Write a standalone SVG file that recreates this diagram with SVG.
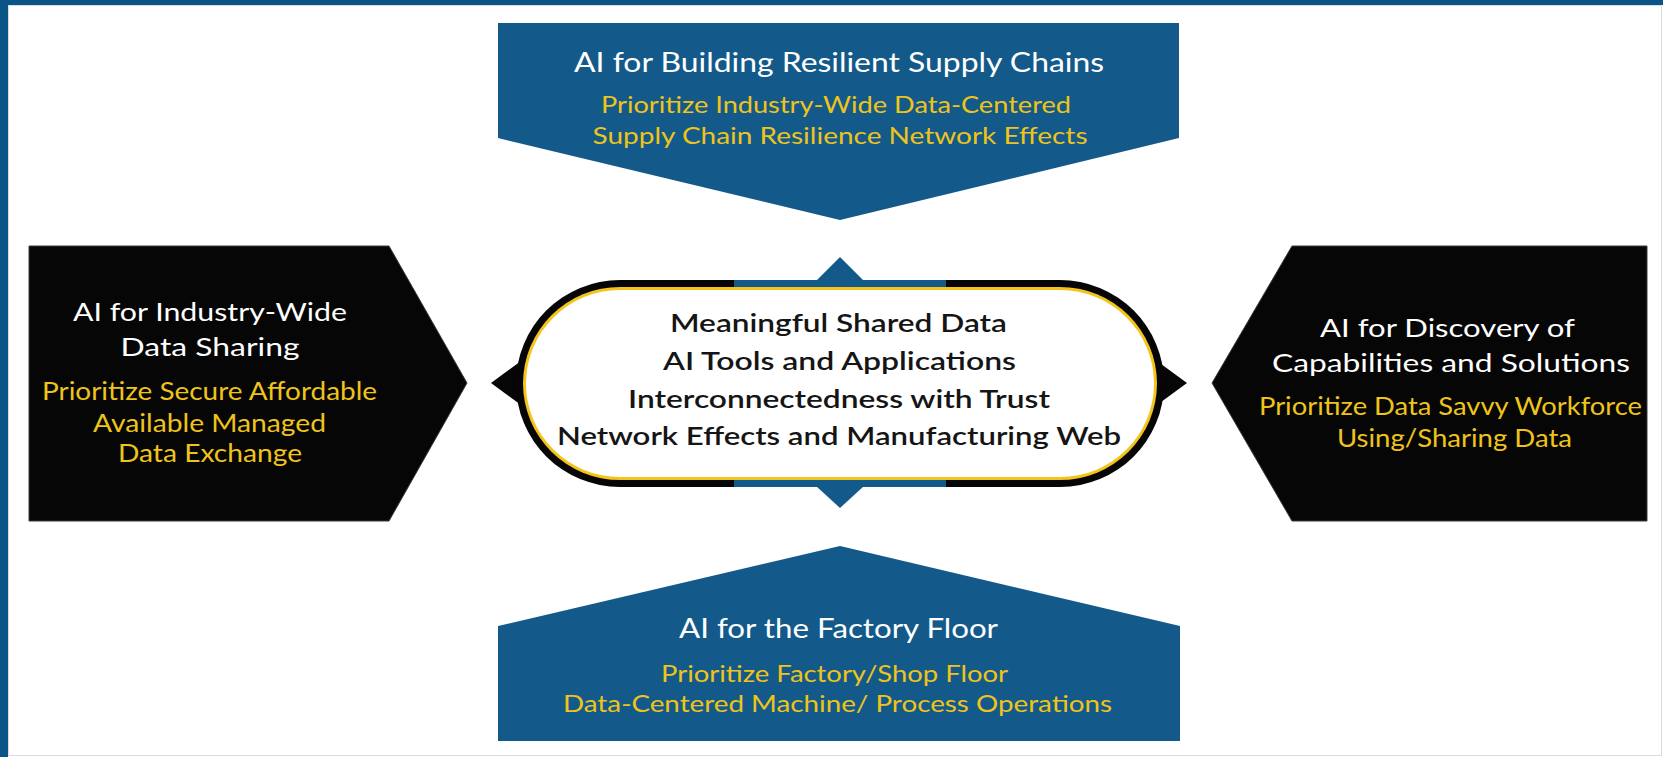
<svg xmlns="http://www.w3.org/2000/svg" width="1663" height="757" viewBox="0 0 1663 757">
  <style>
    .blue { fill: #135a8a; }
    .dark { fill: #060606; stroke: #3a3a3a; stroke-width: 1; }
    text { font-family: Lato, "Liberation Sans", sans-serif; text-anchor: middle; }
    .hw { fill: #ffffff; }
    .hy { fill: #efc41a; }
    .hc { fill: #151515; font-weight: 600; }
  </style>

  <!-- frame -->
  <rect x="0" y="0" width="1663" height="757" fill="#ffffff"/>
  <rect x="8.5" y="5.5" width="1653" height="750" fill="none" stroke="#dcdcdc" stroke-width="1"/>
  <rect x="0" y="0" width="1663" height="5" fill="#0b5488"/>
  <rect x="0" y="0" width="8" height="757" fill="#0b5488"/>

  <!-- top: supply chains -->
  <g id="node-supply-chains">
    <polygon class="blue" points="498,23 1179,23 1179,138 840,220 498,138"/>
    <text class="hw" x="839" y="72" font-size="27" textLength="530" lengthAdjust="spacingAndGlyphs">AI for Building Resilient Supply Chains</text>
    <text class="hy" x="836" y="113" font-size="23" textLength="470" lengthAdjust="spacingAndGlyphs">Prioritize Industry-Wide Data-Centered</text>
    <text class="hy" x="840" y="144" font-size="23" textLength="495" lengthAdjust="spacingAndGlyphs">Supply Chain Resilience Network Effects</text>
  </g>

  <!-- left: data sharing -->
  <g id="node-data-sharing">
    <polygon class="dark" points="29,246 389,246 467,383 389,521 29,521"/>
    <text class="hw" x="210" y="321" font-size="25.5" textLength="274" lengthAdjust="spacingAndGlyphs">AI for Industry-Wide</text>
    <text class="hw" x="210" y="356" font-size="25.5" textLength="179" lengthAdjust="spacingAndGlyphs">Data Sharing</text>
    <text class="hy" x="209.5" y="400" font-size="25" textLength="335" lengthAdjust="spacingAndGlyphs">Prioritize Secure Affordable</text>
    <text class="hy" x="209.5" y="432" font-size="25" textLength="233" lengthAdjust="spacingAndGlyphs">Available Managed</text>
    <text class="hy" x="210" y="462" font-size="25" textLength="184" lengthAdjust="spacingAndGlyphs">Data Exchange</text>
  </g>

  <!-- right: discovery -->
  <g id="node-discovery">
    <polygon class="dark" points="1292,246 1647,246 1647,521 1292,521 1212,383"/>
    <text class="hw" x="1447.5" y="337" font-size="25.5" textLength="255" lengthAdjust="spacingAndGlyphs">AI for Discovery of</text>
    <text class="hw" x="1451" y="372" font-size="25.5" textLength="358" lengthAdjust="spacingAndGlyphs">Capabilities and Solutions</text>
    <text class="hy" x="1450.5" y="415" font-size="25" textLength="383" lengthAdjust="spacingAndGlyphs">Prioritize Data Savvy Workforce</text>
    <text class="hy" x="1454.5" y="447" font-size="25" textLength="235" lengthAdjust="spacingAndGlyphs">Using/Sharing Data</text>
  </g>

  <!-- bottom: factory floor -->
  <g id="node-factory-floor">
    <polygon class="blue" points="840,546 1180,626 1180,741 498,741 498,626"/>
    <text class="hw" x="838.5" y="638" font-size="27" textLength="319" lengthAdjust="spacingAndGlyphs">AI for the Factory Floor</text>
    <text class="hy" x="834.5" y="682" font-size="23" textLength="347" lengthAdjust="spacingAndGlyphs">Prioritize Factory/Shop Floor</text>
    <text class="hy" x="837.5" y="712" font-size="23" textLength="549" lengthAdjust="spacingAndGlyphs">Data-Centered Machine/ Process Operations</text>
  </g>

  <!-- pointers from the hub toward each surrounding block -->
  <g id="connectors">
    <polygon fill="#060606" points="491,383 532,353 532,413"/>
    <polygon fill="#060606" points="1187,383 1146,353 1146,413"/>
    <polygon fill="#135a8a" points="840,257 864,281 816,281"/>
    <polygon fill="#135a8a" points="840,508 864,486 816,486"/>
  </g>

  <!-- central hub -->
  <g id="node-hub">
    <rect x="516" y="280" width="648" height="207" rx="104" ry="103.5" fill="#060606"/>
    <rect x="734" y="280" width="212" height="8" fill="#135a8a"/>
    <rect x="734" y="479" width="212" height="8" fill="#135a8a"/>
    <rect x="523" y="287" width="634" height="193" rx="97" ry="96.5" fill="#f3c41b"/>
    <rect x="526" y="290" width="628" height="187" rx="94" ry="93.5" fill="#ffffff"/>
    <text class="hc" x="838.5" y="332" font-size="25.5" textLength="337" lengthAdjust="spacingAndGlyphs">Meaningful Shared Data</text>
    <text class="hc" x="839.5" y="370" font-size="25.5" textLength="353" lengthAdjust="spacingAndGlyphs">AI Tools and Applications</text>
    <text class="hc" x="839" y="408" font-size="25.5" textLength="422" lengthAdjust="spacingAndGlyphs">Interconnectedness with Trust</text>
    <text class="hc" x="839" y="445" font-size="25.5" textLength="564" lengthAdjust="spacingAndGlyphs">Network Effects and Manufacturing Web</text>
  </g>
</svg>
